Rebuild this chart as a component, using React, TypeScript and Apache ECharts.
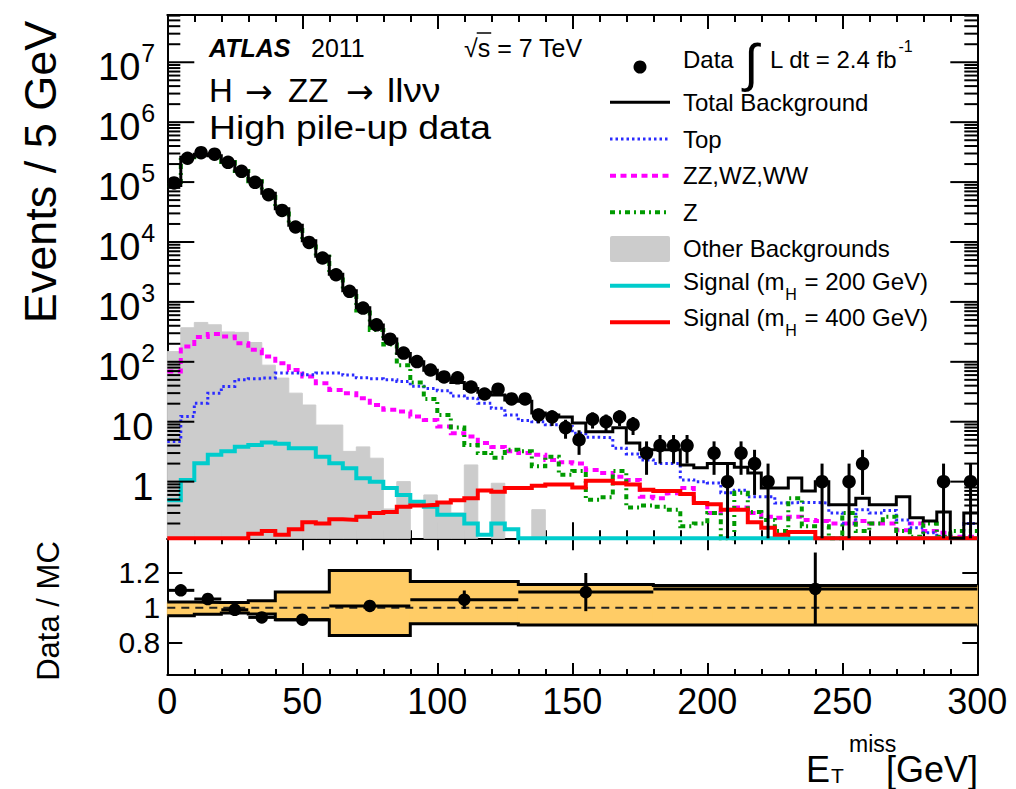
import React, { useEffect, useRef } from 'react';
import * as echarts from 'echarts';

// ---------------- data ----------------
const BIN_WIDTH = 5;
const X_MIN = 0;
const X_MAX = 300;
const Y_MIN = 0.1133;
const Y_MAX = 6.15e7;
const R_MIN = 0.612;
const R_MAX = 1.4;
const UNITY = 1;

const dataCounts = [
  97000, 250000, 310000, 292000, 214000, 151000, 99000, 61700, 33700, 17800,
  9840, 5400, 2840, 1500, 789, 415, 239, 140, 101, 73,
  56, 54, 38, 29, 35, 24, 24, 13, 12, 8,
  5, 11, 10, 12, 9, 3, 4, 4, 4, 0,
  3, 1, 3, 2, 1, 0, 0, 0, 1, 0,
  1, 2, 0, 0, 0, 0, 0, 1, 0, 1,
];
const dataErrors = [
  311, 500, 557, 540, 463, 389, 315, 248, 184, 133,
  99, 73, 53, 39, 28, 20, 15.5, 11.8, 10, 8.5,
  7.5, 7.3, 6.2, 5.4, 5.9, 4.9, 4.9, 3.6, 3.5, 2.8,
  2.2, 3.3, 3.2, 3.5, 3.0, 1.7, 2, 2, 2, 0,
  1.7, 1, 1.7, 1.4, 1, 0, 0, 0, 1, 0,
  1, 1.4, 0, 0, 0, 0, 0, 1, 0, 1,
];
const totalBkg = [
  88000, 260000, 292000, 275000, 217000, 153000, 104000, 65000, 36000, 19000,
  10500, 5800, 2900, 1530, 800, 410, 240, 138, 100, 72,
  52, 45, 36, 31, 28, 23, 22, 14, 13, 12,
  9.5, 6.8, 6.8, 7.9, 4.4, 3.4, 3.4, 3.4, 1.9, 1.7,
  2.0, 2.0, 1.74, 1.4, 0.78, 0.78, 1.15, 0.7, 1.0, 0.41,
  0.41, 0.53, 0.41, 0.41, 0.56, 0.25, 0.22, 0.31, 0, 0.3,
];
const topBkg = [
  4.66, 12.2, 20.4, 30, 38.6, 50, 52, 53.5, 65, 65,
  61, 65, 65, 60, 54, 52, 50, 47, 39, 36,
  33, 27, 24.7, 20.4, 16.8, 13, 10.5, 10, 8.9, 8.3,
  6.4, 5.5, 5.4, 3.6, 2.9, 2.3, 2.0, 2.0, 1.07, 1.0,
  0.95, 0.65, 0.72, 0.56, 0.56, 0.44, 0.45, 0.45, 0.44, 0.3,
  0.2, 0.34, 0.3, 0.33, 0.23, 0.17, 0.14, 0.12, 0.05, 0.2,
];
const dibosonBkg = [
  69, 180, 259, 290, 265, 205, 159, 123, 95, 73,
  57, 44, 34, 30, 24.7, 19, 15.8, 14.8, 12.2, 10.7,
  8.3, 6.4, 5.65, 4.4, 3.8, 3.2, 3.0, 2.8, 2.3, 2.1,
  2.0, 1.57, 1.4, 1.21, 1.07, 0.56, 0.53, 0.64, 0.78, 0.44,
  0.3, 0.34, 0.37, 0.3, 0.26, 0.25, 0.26, 0.23, 0.22, 0.2,
  0.2, 0.22, 0.2, 0.2, 0.155, 0.2, 0.15, 0.14, 0.12, 0.12,
];
const zBkg = [
  87600, 259400, 291200, 274300, 216400, 152400, 103600, 64700, 35800, 18800,
  10360, 5680, 2800, 1460, 720, 340, 195, 88, 45, 24,
  13, 8, 4.1, 3.0, 2.5, 3.4, 3.2, 1.8, 2.6, 1.3,
  1.5, 0.5, 0.55, 1.5, 0.37, 0.4, 0.38, 0.34, 0.18, 0.2,
  0.3, 0.05, 0.65, 0.31, 0.23, 0.15, 0.53, 0.18, 0.18, 0.1,
  0.3, 0.15, 0.2, 0.26, 0.15, 0.12, 0.2, 0.12, 0.15, 0.15,
];
const otherBkg = [
  148, 370, 454, 415, 315, 310, 210, 88, 53.5, 30,
  19, 8.8, 8.8, 3.2, 3.8, 2.46, 0.35, 1.0, 0, 0.6,
  0.45, 0.3, 1.9, 0, 0.94, 0, 0, 0.34, 0, 0,
  0, 0, 0, 0, 0, 0, 0, 0, 0, 0,
  0, 0, 0, 0, 0, 0, 0, 0, 0, 0,
  0, 0, 0, 0, 0, 0, 0, 0, 0, 0,
];
const signal200 = [
  0.49, 1.07, 2.03, 2.8, 3.2, 3.84, 4.1, 4.48, 4.27, 3.6,
  3.6, 2.6, 2.03, 1.67, 1.14, 1.0, 0.78, 0.6, 0.46, 0.38,
  0.28, 0.28, 0.2, 0.13, 0.2, 0.16, 0, 0, 0, 0,
  0, 0, 0, 0, 0, 0, 0, 0, 0, 0,
  0, 0, 0, 0, 0, 0, 0, 0, 0, 0,
  0, 0, 0, 0, 0, 0, 0, 0, 0, 0,
];
const signal400 = [
  0, 0, 0, 0, 0, 0, 0.135, 0.15, 0.13, 0.16,
  0.21, 0.2, 0.235, 0.23, 0.26, 0.3, 0.31, 0.38, 0.4, 0.41,
  0.45, 0.49, 0.53, 0.71, 0.68, 0.78, 0.78, 0.85, 0.9, 0.9,
  0.8, 1.03, 1.03, 0.94, 0.9, 0.73, 0.7, 0.7, 0.62, 0.44,
  0.42, 0.34, 0.34, 0.21, 0.17, 0.13, 0.145, 0.145, 0, 0,
  0, 0, 0, 0, 0, 0, 0, 0, 0, 0,
];

const ratioEdges = [0, 10, 20, 30, 40, 60, 90, 130, 180, 300];
const ratioValues = [1.1, 1.05, 0.988, 0.944, 0.931, 1.01, 1.046, 1.09, 1.108];
const ratioErrors = [0.004, 0.005, 0.006, 0.008, 0.01, 0.02, 0.053, 0.11, 0.21];
const bandLow = [0.953, 0.962, 0.97, 0.963, 0.931, 0.84, 0.908, 0.9, 0.9];
const bandHigh = [1.033, 1.03, 1.03, 1.04, 1.09, 1.215, 1.151, 1.133, 1.128];

const logTickExponents = [-1, 0, 1, 2, 3, 4, 5, 6, 7];
const logMinorMultipliers = [2, 3, 4, 5, 6, 7, 8, 9];
const ratioTickLabels = [0.8, 1, 1.2];

// ---------------- style ----------------
const FAMILY = '"Liberation Sans", Arial, Helvetica, sans-serif';
const SYMBOL_FAMILY = '"DejaVu Sans", sans-serif';
const F = (size: number, pre = '') => `${pre}${size}px ${FAMILY}`;
const GRID_LEFT = 167.3;
const GRID_W = 810;
const MAIN_TOP = 15;
const MAIN_H = 523.3;
const RATIO_TOP = 538.3;
const RATIO_H = 136.7;

const C_TOP = '#2b2bff';
const C_ZZ = '#ff00ff';
const C_Z = '#009a00';
const C_OTHER = '#cccccc';
const C_S200 = '#00cccc';
const C_S400 = '#ff0000';
const C_BAND = '#ffcc66';

const DASH_TOP = [2.5, 3];
const DASH_ZZ = [6, 4.5];
const DASH_Z = [5, 4, 2, 4];

let measureCtx: CanvasRenderingContext2D | null = null;
function measure(text: string, font: string): number {
  if (!measureCtx) measureCtx = document.createElement('canvas').getContext('2d');
  if (!measureCtx) return text.length * 10;
  measureCtx.font = font;
  return measureCtx.measureText(text).width;
}

function buildOption() {
  const clampY = (v: number) => Math.min(Math.max(v, Y_MIN), Y_MAX);
  const stepData = (vals: number[]) => {
    const pts = vals.map((v, i) => [X_MIN + i * BIN_WIDTH, clampY(v)]);
    pts.push([X_MIN + vals.length * BIN_WIDTH, clampY(vals[vals.length - 1])]);
    return pts;
  };
  const mainStep = (name: string, vals: number[], color: string, width: number, dash: any, z: number) => ({
    type: 'line', name, xAxisIndex: 0, yAxisIndex: 0, data: stepData(vals), step: 'end',
    symbol: 'none', showSymbol: false, clip: false, silent: true, z,
    lineStyle: { color, width, type: dash, cap: 'butt', join: 'miter' },
  });
  const ratioStep = (vals: number[]) => {
    const pts = vals.map((v, i) => [ratioEdges[i], v]);
    pts.push([ratioEdges[ratioEdges.length - 1], vals[vals.length - 1]]);
    return pts;
  };

  const yTickData: number[][] = [];
  logTickExponents.forEach((e) => {
    const base = Math.pow(10, e);
    if (base >= Y_MIN && base <= Y_MAX) yTickData.push([X_MIN, base, 1]);
    logMinorMultipliers.forEach((m) => {
      const v = m * base;
      if (v >= Y_MIN && v <= Y_MAX) yTickData.push([X_MIN, v, 0]);
    });
  });

  const dataPts: number[][] = [];
  const dataErr: number[][] = [];
  dataCounts.forEach((n, i) => {
    if (n <= 0) return;
    const xc = X_MIN + (i + 0.5) * BIN_WIDTH;
    dataPts.push([xc, n]);
    dataErr.push([xc, clampY(n - dataErrors[i]), clampY(n + dataErrors[i])]);
  });

  const otherRects: number[][] = [];
  otherBkg.forEach((v, i) => {
    if (v > Y_MIN) otherRects.push([X_MIN + i * BIN_WIDTH, X_MIN + (i + 1) * BIN_WIDTH, v]);
  });

  const bandRects = bandLow.map((lo, i) => [ratioEdges[i], ratioEdges[i + 1], lo, bandHigh[i]]);
  const ratioBars = ratioValues.map((v, i) => [ratioEdges[i], ratioEdges[i + 1], v, ratioErrors[i]]);
  const ratioPts = ratioValues.map((v, i) => [(ratioEdges[i] + ratioEdges[i + 1]) / 2, v]);

  const axisLine = { show: true, onZero: false, lineStyle: { color: '#000', width: 2 } };
  const xBase = (gridIndex: number, position: string, tickLen: number, minorLen: number, labels: boolean) => ({
    type: 'value', gridIndex, position, min: X_MIN, max: X_MAX, interval: 50,
    axisLine, splitLine: { show: false },
    axisTick: { show: true, inside: true, length: tickLen, lineStyle: { color: '#000', width: 2 } },
    minorTick: { show: true, splitNumber: 5, length: minorLen, lineStyle: { color: '#000', width: 2 } },
    axisLabel: labels
      ? { show: true, fontSize: 36, fontFamily: FAMILY, color: '#000', margin: 8 }
      : { show: false },
  });

  const ratioFmt = (v: number) => {
    const hit = ratioTickLabels.find((t) => Math.abs(t - v) < 1e-6);
    return hit === undefined ? '' : String(hit);
  };

  // ---------- graphic (texts + legend) ----------
  const g: any[] = [];
  const txt = (text: string, x: number, y: number, font: string, align = 'left', extra: any = {}) =>
    g.push({ type: 'text', x, y, z: 100, ...extra, style: { text, font, fill: '#000', align, verticalAlign: 'middle' } });

  txt('ATLAS', 209, 47.5, F(25, 'italic bold '));
  txt('2011', 311, 47.5, F(25));
  const sqrtX = 464;
  txt('\u221As = 7 TeV', sqrtX, 47.5, F(25));
  const wRad = measure('\u221A', F(25));
  const wS = measure('s', F(25));
  g.push({ type: 'line', z: 100, shape: { x1: sqrtX + wRad - 1, y1: 33, x2: sqrtX + wRad + wS + 1, y2: 33 }, style: { stroke: '#000', lineWidth: 1.5 } });

  txt('H', 209, 90.3, F(33));
  txt('\u2192', 245, 91, `33px ${SYMBOL_FAMILY}`);
  txt('ZZ', 288, 90.3, F(33));
  txt('\u2192', 346, 91, `33px ${SYMBOL_FAMILY}`);
  txt('ll\u03BD\u03BD', 387, 90.3, F(33), 'left', { scaleX: 1.12 });
  txt('High pile-up data', 209, 127, F(33), 'left', { scaleX: 1.13 });

  // axis titles
  txt('Events / 5 GeV', 40, 172, F(45), 'center', { rotation: Math.PI / 2 });
  txt('Data / MC', 48, 611, F(31), 'center', { rotation: Math.PI / 2 });
  txt('E', 806, 769, F(36));
  txt('T', 831, 775, F(21));
  txt('miss', 849, 744, F(23));
  txt('[GeV]', 978, 769, F(36), 'right');

  // legend
  const LX0 = 610, LX1 = 670, LTX = 683, LFS = 24;
  g.push({ type: 'circle', z: 100, shape: { cx: 640, cy: 67, r: 6.5 }, style: { fill: '#000' } });
  txt('Data', LTX, 59.5, F(LFS));
  txt('\u222B', 751, 63, F(52), 'center');
  const lumiText = 'L dt = 2.4 fb';
  txt(lumiText, 770, 59.5, F(LFS));
  txt('-1', 770 + measure(lumiText, F(LFS)) + 1, 46, F(16));
  const legLine = (y: number, stroke: string, width: number, dash: any) =>
    g.push({ type: 'line', z: 100, shape: { x1: LX0, y1: y, x2: LX1, y2: y }, style: { stroke, lineWidth: width, lineDash: dash, lineCap: 'butt' } });
  legLine(102.3, '#000', 3, null);
  txt('Total Background', LTX, 102, F(LFS));
  legLine(139, C_TOP, 3, DASH_TOP);
  txt('Top', LTX, 139, F(LFS));
  legLine(175.7, C_ZZ, 4, DASH_ZZ);
  txt('ZZ,WZ,WW', LTX, 175.7, F(LFS));
  legLine(212.3, C_Z, 4, DASH_Z);
  txt('Z', LTX, 212.3, F(LFS));
  g.push({ type: 'rect', z: 100, shape: { x: LX0, y: 236, width: LX1 - LX0, height: 26, r: 2 }, style: { fill: C_OTHER } });
  txt('Other Backgrounds', LTX, 248.5, F(LFS));
  const sigEntry = (yLine: number, yText: number, color: string, mass: string) => {
    legLine(yLine, color, 4, null);
    const t1 = 'Signal (m';
    const w1 = measure(t1, F(LFS));
    txt(t1, LTX, yText, F(LFS));
    txt('H', LTX + w1 + 1, yText + 13, F(16));
    txt(` = ${mass} GeV)`, LTX + w1 + measure('H', F(16)) + 2, yText, F(LFS));
  };
  sigEntry(285.7, 281, C_S200, '200');
  sigEntry(322.3, 317, C_S400, '400');

  return {
    animation: false,
    backgroundColor: '#ffffff',
    grid: [
      { left: GRID_LEFT, top: MAIN_TOP, width: GRID_W, height: MAIN_H },
      { left: GRID_LEFT, top: RATIO_TOP, width: GRID_W, height: RATIO_H },
    ],
    xAxis: [
      xBase(0, 'bottom', 16, 8, false),
      xBase(0, 'top', 14, 7, false),
      xBase(1, 'bottom', 12, 6, true),
      xBase(1, 'top', 12, 6, false),
    ],
    yAxis: [
      { type: 'log', logBase: 10, gridIndex: 0, position: 'left', min: Y_MIN, max: Y_MAX, axisLine,
        axisTick: { show: false }, axisLabel: { show: false }, splitLine: { show: false }, minorTick: { show: false } },
      { type: 'log', logBase: 10, gridIndex: 0, position: 'right', min: Y_MIN, max: Y_MAX, axisLine,
        axisTick: { show: false }, axisLabel: { show: false }, splitLine: { show: false }, minorTick: { show: false } },
      { type: 'value', gridIndex: 1, position: 'left', min: R_MIN, max: R_MAX, axisLine, splitLine: { show: false },
        axisTick: { show: true, inside: true, length: 15, lineStyle: { color: '#000', width: 2 } },
        axisLabel: { show: true, fontSize: 30, fontFamily: FAMILY, color: '#000', margin: 7, formatter: ratioFmt, showMinLabel: false, showMaxLabel: false } },
      { type: 'value', gridIndex: 1, position: 'right', min: R_MIN, max: R_MAX, axisLine, splitLine: { show: false },
        axisTick: { show: true, inside: true, length: 15, lineStyle: { color: '#000', width: 2 } },
        axisLabel: { show: false } },
    ],
    graphic: { elements: g },
    series: [
      {
        type: 'custom', xAxisIndex: 0, yAxisIndex: 0, data: otherRects, encode: { x: [0, 1], y: 2 }, z: 1, silent: true,
        renderItem: (_p: any, api: any) => {
          const a = api.coord([api.value(0), api.value(2)]);
          const b = api.coord([api.value(1), Y_MIN]);
          return {
            type: 'rect',
            shape: { x: a[0], y: a[1], width: b[0] - a[0], height: b[1] - a[1] },
            style: { fill: C_OTHER, stroke: C_OTHER, lineWidth: 1 },
          };
        },
      },
      mainStep('ZZ,WZ,WW', dibosonBkg, C_ZZ, 4, DASH_ZZ, 3),
      mainStep('Top', topBkg, C_TOP, 3, DASH_TOP, 4),
      mainStep('Z', zBkg, C_Z, 4, DASH_Z, 5),
      mainStep('Signal 200', signal200, C_S200, 4, 'solid', 6),
      mainStep('Signal 400', signal400, C_S400, 4, 'solid', 6),
      mainStep('Total Background', totalBkg, '#000', 3, 'solid', 7),
      {
        type: 'custom', xAxisIndex: 0, yAxisIndex: 0, data: dataErr, encode: { x: 0, y: [1, 2] }, z: 8, silent: true,
        renderItem: (_p: any, api: any) => {
          const a = api.coord([api.value(0), api.value(1)]);
          const b = api.coord([api.value(0), api.value(2)]);
          return { type: 'line', shape: { x1: a[0], y1: a[1], x2: b[0], y2: b[1] }, style: { stroke: '#000', lineWidth: 3 } };
        },
      },
      {
        type: 'scatter', xAxisIndex: 0, yAxisIndex: 0, data: dataPts, symbol: 'circle', symbolSize: 13.5,
        itemStyle: { color: '#000', opacity: 1 }, z: 9, silent: true, clip: false,
      },
      {
        type: 'custom', xAxisIndex: 0, yAxisIndex: 0, data: yTickData, encode: { x: 0, y: 1 }, z: 10, silent: true,
        renderItem: (_p: any, api: any) => {
          const v = api.value(1) as number;
          const major = api.value(2) === 1;
          const pl = api.coord([X_MIN, v]);
          const pr = api.coord([X_MAX, v]);
          const len = major ? 27 : 13;
          const children: any[] = [
            { type: 'line', shape: { x1: pl[0], y1: pl[1], x2: pl[0] + len, y2: pl[1] }, style: { stroke: '#000', lineWidth: 2 } },
            { type: 'line', shape: { x1: pr[0] - len, y1: pr[1], x2: pr[0], y2: pr[1] }, style: { stroke: '#000', lineWidth: 2 } },
          ];
          if (major) {
            const e = Math.round(Math.log10(v));
            if (e >= 2) {
              children.push({ type: 'text', style: { text: '10', x: pl[0] - 27, y: pl[1] + 5, font: F(38), fill: '#000', align: 'right', verticalAlign: 'middle' } });
              children.push({ type: 'text', style: { text: String(e), x: pl[0] - 26, y: pl[1] - 9, font: F(25), fill: '#000', align: 'left', verticalAlign: 'middle' } });
            } else {
              children.push({ type: 'text', style: { text: String(Math.pow(10, e)), x: pl[0] - 14, y: pl[1] + 5, font: F(38), fill: '#000', align: 'right', verticalAlign: 'middle' } });
            }
          }
          return { type: 'group', children };
        },
      },
      {
        type: 'custom', xAxisIndex: 2, yAxisIndex: 2, data: bandRects, encode: { x: [0, 1], y: [2, 3] }, z: 1, silent: true,
        renderItem: (_p: any, api: any) => {
          const a = api.coord([api.value(0), api.value(3)]);
          const b = api.coord([api.value(1), api.value(2)]);
          return { type: 'rect', shape: { x: a[0], y: a[1], width: b[0] - a[0], height: b[1] - a[1] }, style: { fill: C_BAND, stroke: C_BAND, lineWidth: 1 } };
        },
      },
      {
        type: 'line', xAxisIndex: 2, yAxisIndex: 2, data: [[X_MIN, UNITY], [X_MAX, UNITY]], symbol: 'none', z: 2, silent: true,
        lineStyle: { color: '#222', width: 2, type: [8, 6] },
      },
      {
        type: 'line', xAxisIndex: 2, yAxisIndex: 2, data: ratioStep(bandHigh), step: 'end', symbol: 'none', z: 3, silent: true, clip: false,
        lineStyle: { color: '#000', width: 3, cap: 'butt', join: 'miter' },
      },
      {
        type: 'line', xAxisIndex: 2, yAxisIndex: 2, data: ratioStep(bandLow), step: 'end', symbol: 'none', z: 3, silent: true, clip: false,
        lineStyle: { color: '#000', width: 3, cap: 'butt', join: 'miter' },
      },
      {
        type: 'custom', xAxisIndex: 2, yAxisIndex: 2, data: ratioBars, encode: { x: [0, 1], y: 2 }, z: 4, silent: true,
        renderItem: (_p: any, api: any) => {
          const x0 = api.value(0), x1 = api.value(1), v = api.value(2), e = api.value(3);
          const xc = (x0 + x1) / 2;
          const h0 = api.coord([x0, v]);
          const h1 = api.coord([x1, v]);
          const v0 = api.coord([xc, v - e]);
          const v1 = api.coord([xc, v + e]);
          return {
            type: 'group', children: [
              { type: 'line', shape: { x1: h0[0], y1: h0[1], x2: h1[0], y2: h1[1] }, style: { stroke: '#000', lineWidth: 3 } },
              { type: 'line', shape: { x1: v0[0], y1: v0[1], x2: v1[0], y2: v1[1] }, style: { stroke: '#000', lineWidth: 3 } },
            ],
          };
        },
      },
      {
        type: 'scatter', xAxisIndex: 2, yAxisIndex: 2, data: ratioPts, symbol: 'circle', symbolSize: 12.5,
        itemStyle: { color: '#000', opacity: 1 }, z: 5, silent: true,
      },
    ],
  };
}

export default function App() {
  const ref = useRef<HTMLDivElement>(null);
  useEffect(() => {
    if (!ref.current) return;
    const chart = echarts.init(ref.current, undefined, { renderer: 'svg' });
    chart.setOption(buildOption() as any);
    return () => chart.dispose();
  }, []);
  return (
    <div
      ref={ref}
      style={{ position: 'fixed', left: 0, top: 0, width: 1016, height: 789, background: '#fff' }}
    />
  );
}
